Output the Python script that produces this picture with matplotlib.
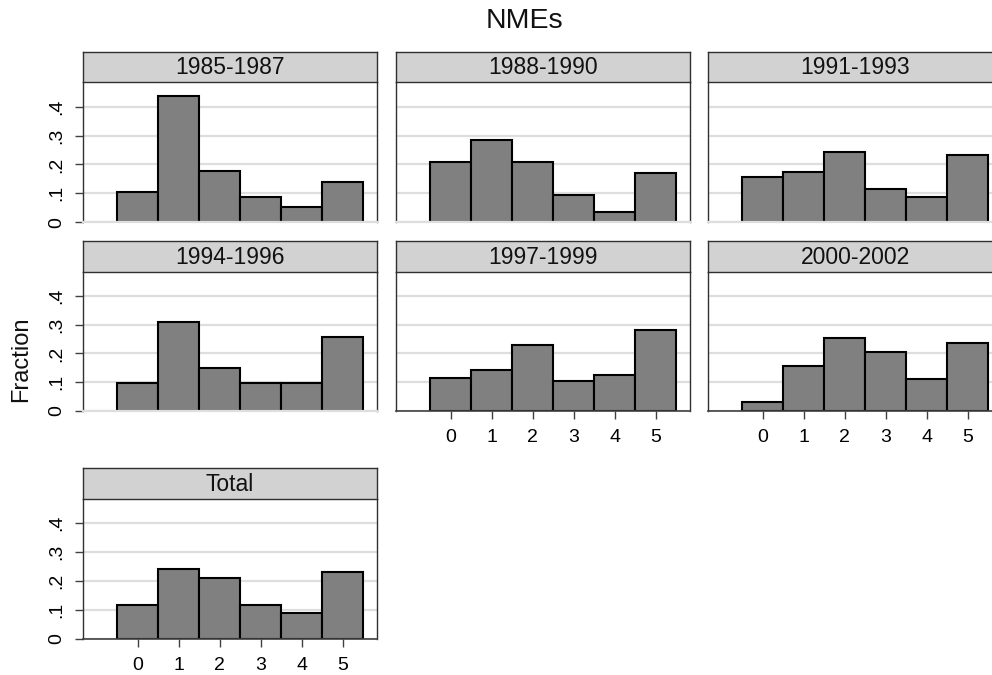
import matplotlib
matplotlib.use("Agg")
import matplotlib.pyplot as plt

plt.rcParams['font.family'] = ['Liberation Sans', 'DejaVu Sans']

# ---- data ----
periods = ['1985-1987', '1988-1990', '1991-1993', '1994-1996', '1997-1999', '2000-2002', 'Total']
categories = [0, 1, 2, 3, 4, 5]
frac_1985 = [0.106, 0.438, 0.176, 0.089, 0.053, 0.141]
frac_1988 = [0.207, 0.285, 0.207, 0.096, 0.037, 0.171]
frac_1991 = [0.158, 0.173, 0.243, 0.115, 0.086, 0.231]
frac_1994 = [0.096, 0.310, 0.151, 0.096, 0.096, 0.256]
frac_1997 = [0.114, 0.144, 0.230, 0.103, 0.124, 0.281]
frac_2000 = [0.031, 0.158, 0.254, 0.206, 0.111, 0.238]
frac_total = [0.116, 0.243, 0.209, 0.116, 0.090, 0.230]
series = [frac_1985, frac_1988, frac_1991, frac_1994, frac_1997, frac_2000, frac_total]
y_ticks = [0, 0.1, 0.2, 0.3, 0.4]
y_ticklabels = ['0', '.1', '.2', '.3', '.4']
title = 'NMEs'
ylabel = 'Fraction'

# ---- layout (pixels) ----
W, H = 992, 675
fig = plt.figure(figsize=(W / 100, H / 100), dpi=100)
fig.patch.set_facecolor('white')

col_left = [83, 396, 708]
panel_w = 294
rows = [  # (strip_top, plot_top, plot_bottom)
    (51.7, 82.3, 222.3),
    (241.0, 271.7, 411.0),
    (468.3, 499.0, 638.7),
]
grid_pos = [(0, 0), (0, 1), (0, 2), (1, 0), (1, 1), (1, 2), (2, 0)]
show_x = {4, 5, 6}
show_y = {0, 3, 6}

def fx(px):
    return px / W

def fy(py):
    return 1 - py / H

dark = '#303030'
grid_c = '#dedede'
strip_c = '#d2d2d2'

for i, (r, c) in enumerate(grid_pos):
    st, pt, pb = rows[r]
    left = col_left[c]
    ax = fig.add_axes([fx(left), fy(pb), panel_w / W, (pb - pt) / H])
    ax.set_xlim(-1.33, 5.84)
    ax.set_ylim(0, 0.484)
    for y in y_ticks:
        ax.axhline(y, color=grid_c, lw=1.6, zorder=0)
    ax.bar(categories, series[i], width=1.0, color='#808080',
           edgecolor='black', linewidth=1.5, zorder=2)
    for s in ['left', 'right']:
        ax.spines[s].set_color(dark)
        ax.spines[s].set_linewidth(1.0)
    ax.spines['top'].set_visible(False)
    if i in show_x:
        ax.spines['bottom'].set_color('#404040')
        ax.spines['bottom'].set_linewidth(1.2)
        ax.set_xticks(categories)
        ax.set_xticklabels([str(v) for v in categories])
        ax.tick_params(axis='x', length=6, width=1.0, color='#404040',
                       labelsize=14, pad=7)
    else:
        ax.spines['bottom'].set_color(grid_c)
        ax.spines['bottom'].set_linewidth(1.6)
        ax.set_xticks([])
    if i in show_y:
        ax.set_yticks(y_ticks)
        ax.set_yticklabels(y_ticklabels)
        ax.tick_params(axis='y', length=6, width=1.0, color='#404040',
                       labelsize=14, pad=7, labelrotation=90)
        for lab in ax.get_yticklabels():
            lab.set_verticalalignment('center')
    else:
        ax.set_yticks([])

    # strip header
    sax = fig.add_axes([fx(left), fy(pt), panel_w / W, (pt - st) / H])
    sax.set_facecolor(strip_c)
    sax.set_xticks([])
    sax.set_yticks([])
    for s in sax.spines.values():
        s.set_color(dark)
        s.set_linewidth(1.0)
    sax.text(0.5, 0.47, periods[i], ha='center', va='center',
             fontsize=16.5, color='#111111', transform=sax.transAxes)

fig.text(fx(524), fy(21), title, ha='center', va='center', fontsize=20.5,
         color='#111111')
fig.text(fx(21), fy(359), ylabel, ha='center', va='center', rotation=90,
         fontsize=17, color='#111111')

fig.savefig('out.png', dpi=100, facecolor='white')
